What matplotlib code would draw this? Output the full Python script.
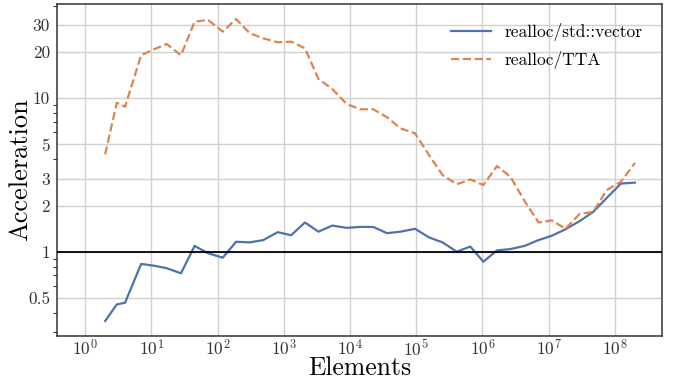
import matplotlib
matplotlib.use("Agg")
import matplotlib.pyplot as plt
from matplotlib.ticker import FixedLocator, NullFormatter, LogLocator

plt.rcParams['font.family'] = ['cmr10', 'DejaVu Serif']
plt.rcParams['mathtext.fontset'] = 'cm'
plt.rcParams['axes.formatter.use_mathtext'] = True
plt.rcParams['axes.unicode_minus'] = False

# problem sizes (number of elements)
elements = [2, 3, 4, 7, 11, 17, 28, 45, 72, 120, 190, 305, 490, 810, 1290,
            2090, 3330, 5410, 8930, 14300, 22500, 36300, 58000, 96200,
            156000, 250000, 410000, 658000, 1035000, 1670000, 2670000,
            4340000, 7060000, 11200000, 18000000, 29400000, 47500000,
            75600000, 124000000, 202000000]

# acceleration of realloc over std::vector
vs_vector = [0.353, 0.453, 0.465, 0.832, 0.81, 0.78, 0.723, 1.09, 0.976, 0.914,
             1.16, 1.15, 1.19, 1.34, 1.28, 1.55, 1.35, 1.48, 1.43, 1.45,
             1.45, 1.32, 1.35, 1.41, 1.24, 1.15, 1.0, 1.08, 0.86, 1.02,
             1.04, 1.09, 1.19, 1.27, 1.40, 1.58, 1.82, 2.24, 2.78, 2.82]

# acceleration of realloc over TTA
vs_tta = [4.31, 9.36, 8.82, 19.1, 20.9, 22.6, 19.1, 31.6, 32.4, 27.2,
          32.9, 26.6, 24.6, 23.2, 23.4, 21.2, 13.4, 11.5, 9.18, 8.48,
          8.48, 7.52, 6.37, 5.91, 4.27, 3.16, 2.75, 2.96, 2.72, 3.62,
          3.07, 2.14, 1.55, 1.60, 1.41, 1.76, 1.82, 2.52, 2.86, 3.79]

yticks = [0.5, 1, 2, 3, 5, 10, 20, 30]
ytick_labels = ['0.5', '1', '2', '3', '5', '10', '20', '30']
xticks = [1e0, 1e1, 1e2, 1e3, 1e4, 1e5, 1e6, 1e7, 1e8]

fig = plt.figure(figsize=(6.74, 3.79), dpi=100)
ax = fig.add_axes([0.0846, 0.1135, 0.8976, 0.8759])

ax.plot(elements, vs_vector, color='#4c72b0', lw=1.6, label='realloc/std::vector')
ax.plot(elements, vs_tta, color='#dd8452', lw=1.6, ls='--', label='realloc/TTA')
ax.axhline(1, color='black', lw=1.3, zorder=3)

ax.set_xscale('log')
ax.set_yscale('log')
ax.set_xlim(0.375, 5.18e8)
ax.set_ylim(0.282, 41.2)

ax.xaxis.set_major_locator(FixedLocator(xticks))
ax.xaxis.set_minor_locator(FixedLocator([]))
ax.yaxis.set_major_locator(FixedLocator(yticks))
ax.set_yticklabels(ytick_labels)
ax.yaxis.set_minor_locator(LogLocator(base=10, subs=range(2, 10)))
ax.yaxis.set_minor_formatter(NullFormatter())

ax.grid(True, which='major', color='#d0d0d0', lw=1.0)
ax.set_axisbelow(True)
ax.tick_params(which='major', length=0, labelsize=12.5, labelcolor='#333333')
ax.tick_params(axis='x', which='major', pad=1.5)
ax.tick_params(axis='y', which='major', pad=5)
ax.tick_params(axis='y', which='minor', length=3, width=0.8, color='#333333')

for sp in ax.spines.values():
    sp.set_color('#333333')
    sp.set_linewidth(1.1)

ax.set_xlabel('Elements', fontsize=18.5)
ax.set_ylabel('Acceleration', fontsize=19)
ax.xaxis.set_label_coords(0.5, -0.062)
ax.yaxis.set_label_coords(-0.042, 0.5)

ax.legend(loc='upper right', frameon=False, fontsize=12.5, handlelength=2.3,
          handletextpad=0.8, borderaxespad=0.7, labelspacing=0.55)

fig.savefig('out.png', dpi=100)
